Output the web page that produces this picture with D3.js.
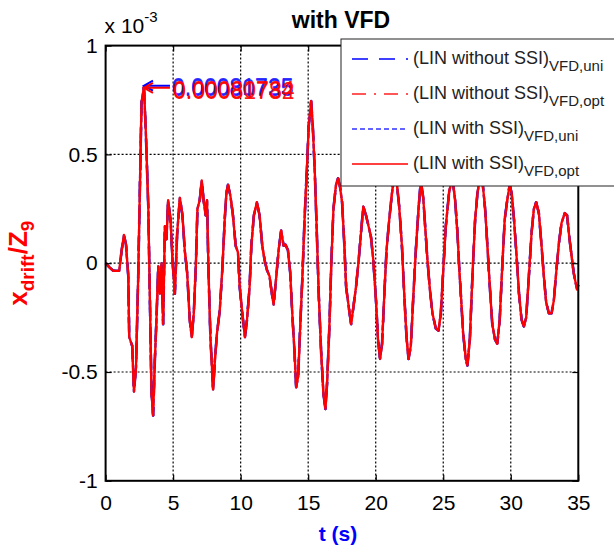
<!DOCTYPE html>
<html>
<head>
<meta charset="utf-8">
<script src="https://cdn.jsdelivr.net/npm/d3@7"></script>
<style>
  body { margin: 0; background: #fff; }
  svg { display: block; font-family: Arial, "Liberation Sans", sans-serif; }
</style>
</head>
<body>
<svg id="chart" width="614" height="550"></svg>
<script>
// time (s) and drift ratio (x 10^-3); the four curves coincide
const tSec = [0, 0.3, 0.57, 1.01, 1.19, 1.36, 1.51, 1.68, 1.75, 1.97, 2.1, 2.25, 2.42, 2.54, 2.66, 2.84, 2.98,
  3.16, 3.28, 3.4, 3.52, 3.65, 3.77, 3.9, 4.02, 4.14, 4.26, 4.39, 4.51, 4.63, 4.81, 4.95, 5.13, 5.3, 5.5,
  5.69, 5.86, 6.04, 6.23, 6.38, 6.53, 6.68, 6.8, 6.97, 7.12, 7.27, 7.41, 7.51, 7.61, 7.76, 7.96, 8.1, 8.25,
  8.45, 8.65, 8.82, 8.94, 9.06, 9.24, 9.43, 9.63, 9.8, 9.93, 10.12, 10.32, 10.47, 10.66, 10.79, 10.98, 11.2,
  11.4, 11.6, 11.77, 11.94, 12.14, 12.31, 12.44, 12.64, 12.81, 13.0, 13.18, 13.32, 13.5, 13.67, 13.82, 13.99,
  14.11, 14.26, 14.41, 14.56, 14.73, 14.9, 15.04, 15.22, 15.34, 15.49, 15.64, 15.78, 15.96, 16.13, 16.28,
  16.4, 16.57, 16.72, 16.87, 17.06, 17.21, 17.36, 17.51, 17.68, 17.81, 18.0, 18.18, 18.35, 18.54, 18.74,
  18.91, 19.08, 19.28, 19.47, 19.65, 19.82, 20.02, 20.17, 20.32, 20.47, 20.64, 20.8, 21.0, 21.2, 21.37,
  21.54, 21.74, 21.94, 22.11, 22.28, 22.43, 22.6, 22.77, 22.97, 23.17, 23.34, 23.52, 23.66, 23.83, 24.01,
  24.2, 24.45, 24.65, 24.82, 24.99, 25.19, 25.44, 25.68, 25.88, 26.05, 26.2, 26.32, 26.47, 26.67, 26.79,
  26.97, 27.16, 27.36, 27.53, 27.7, 27.9, 28.1, 28.27, 28.45, 28.63, 28.83, 29.0, 29.18, 29.37, 29.55,
  29.74, 29.92, 30.07, 30.24, 30.41, 30.61, 30.8, 30.97, 31.14, 31.34, 31.54, 31.71, 31.88, 32.08, 32.28,
  32.45, 32.62, 32.82, 33.02, 33.19, 33.36, 33.56, 33.76, 34.0, 34.17, 34.35, 34.54, 34.66, 34.9, 35];
const drift = [0, -0.02, -0.035, -0.035, 0.06, 0.13, 0.085, -0.06, -0.34, -0.38, -0.59, -0.48, -0.045, 0.35,
  0.74, 0.81, 0.6, 0.26, -0.17, -0.6, -0.7, -0.44, -0.25, -0.015, -0.14, 0.0, -0.28, 0.17, 0.11, 0.29, 0.2,
  0.015, -0.14, 0.14, 0.3, 0.22, 0.06, -0.045, -0.26, -0.34, -0.23, -0.015, 0.25, 0.29, 0.38, 0.28, 0.22,
  0.29, -0.015, -0.34, -0.58, -0.44, -0.32, -0.22, -0.02, 0.2, 0.32, 0.36, 0.31, 0.22, 0.08, 0.05, -0.11,
  -0.23, -0.34, -0.26, -0.11, 0.08, 0.22, 0.28, 0.22, 0.08, 0.015, -0.03, -0.06, -0.14, -0.19, -0.06, 0.06,
  0.15, 0.08, 0.085, 0.06, -0.045, -0.23, -0.41, -0.57, -0.52, -0.29, -0.08, 0.2, 0.43, 0.63, 0.745, 0.63,
  0.42, 0.14, -0.14, -0.41, -0.6, -0.67, -0.55, -0.29, 0.015, 0.25, 0.36, 0.39, 0.35, 0.28, 0.08, -0.11,
  -0.2, -0.28, -0.2, -0.11, 0.015, 0.14, 0.26, 0.22, 0.17, 0.12, 0.015, -0.17, -0.35, -0.44, -0.37, -0.14,
  0.06, 0.2, 0.32, 0.4, 0.38, 0.26, 0.08, -0.14, -0.34, -0.44, -0.38, -0.17, 0.06, 0.25, 0.38, 0.3, 0.17,
  0.015, -0.12, -0.23, -0.3, -0.31, -0.23, -0.045, 0.17, 0.33, 0.39, 0.29, 0.14, -0.04, -0.16, -0.32,
  -0.44, -0.47, -0.35, -0.06, 0.2, 0.32, 0.39, 0.38, 0.25, 0.08, -0.11, -0.28, -0.35, -0.37, -0.26,
  -0.015, 0.2, 0.29, 0.36, 0.32, 0.2, 0.05, -0.14, -0.26, -0.29, -0.25, -0.06, 0.14, 0.25, 0.28, 0.23,
  0.08, -0.06, -0.18, -0.23, -0.23, -0.17, -0.045, 0.09, 0.185, 0.23, 0.22, 0.11, 0.015, -0.045, -0.12, -0.1];

const xTicks = [0, 5, 10, 15, 20, 25, 30, 35];
const yTicks = [-1, -0.5, 0, 0.5, 1];
const legendNames = ["(LIN without SSI)", "(LIN without SSI)", "(LIN with SSI)", "(LIN with SSI)"];
const legendSubs = ["VFD,uni", "VFD,opt", "VFD,uni", "VFD,opt"];
const peakT = 2.84, peakV = 0.81;
const peakLabels = ["0.00081725", "0.00080735", "0.00080734", "0.00081782"];

// line styles for the four series, in legend order
const styles = [
  { color: "#0000ff", dash: "16,11", w: 2.6 },
  { color: "#ff2020", dash: "14,8,2,8", w: 2.2 },
  { color: "#3030ff", dash: "5,3", w: 2.4 },
  { color: "#ff0000", dash: null, w: 2.3 }
];

const svg = d3.select("#chart");
const m = { l: 105.6, r: 578.3, t: 45.6, b: 480.8 };
const x = d3.scaleLinear().domain([0, 35]).range([m.l, m.r]);
const y = d3.scaleLinear().domain([-1, 1]).range([m.b, m.t]);
const pts = tSec.map((t, i) => [t, drift[i]]);

// dotted grid
svg.append("g").selectAll("line").data(xTicks.slice(1, -1)).join("line")
  .attr("x1", d => x(d)).attr("x2", d => x(d)).attr("y1", m.t).attr("y2", m.b)
  .attr("stroke", "#000").attr("stroke-dasharray", "2,2").attr("stroke-width", 1.2);
svg.append("g").selectAll("line").data(yTicks.slice(1, -1)).join("line")
  .attr("y1", d => y(d)).attr("y2", d => y(d)).attr("x1", m.l).attr("x2", m.r)
  .attr("stroke", "#000").attr("stroke-dasharray", "2,2").attr("stroke-width", 1.2);

// curves
const line = d3.line().x(d => x(d[0])).y(d => y(d[1]));
styles.forEach(s => {
  svg.append("path").datum(pts)
    .attr("d", line).attr("fill", "none")
    .attr("stroke", s.color).attr("stroke-width", s.w)
    .attr("stroke-linejoin", "round")
    .attr("stroke-dasharray", s.dash);
});

// axes with inward ticks on all four sides
const fmt = d => String(d);
function styleAxis(g) {
  g.select(".domain").remove();
  g.selectAll(".tick line").attr("stroke", "#000").attr("stroke-width", 1.2);
  g.selectAll("text").attr("font-size", 21).attr("fill", "#000");
}
svg.append("g").attr("transform", `translate(0,${m.b})`)
  .call(d3.axisBottom(x).tickValues(xTicks).tickFormat(fmt).tickSizeInner(-6).tickSizeOuter(0).tickPadding(14))
  .call(styleAxis);
svg.append("g").attr("transform", `translate(0,${m.t})`)
  .call(d3.axisTop(x).tickValues(xTicks).tickFormat("").tickSizeInner(-6).tickSizeOuter(0))
  .call(styleAxis);
svg.append("g").attr("transform", `translate(${m.l},0)`)
  .call(d3.axisLeft(y).tickValues(yTicks).tickFormat(fmt).tickSizeInner(-6).tickSizeOuter(0).tickPadding(8))
  .call(styleAxis);
svg.append("g").attr("transform", `translate(${m.r},0)`)
  .call(d3.axisRight(y).tickValues(yTicks).tickFormat("").tickSizeInner(-6).tickSizeOuter(0))
  .call(styleAxis);
svg.append("rect").attr("x", m.l).attr("y", m.t).attr("width", m.r - m.l).attr("height", m.b - m.t)
  .attr("fill", "none").attr("stroke", "#000").attr("stroke-width", 2);

// exponent
const ex = svg.append("text").attr("x", m.l - 1).attr("y", 33).attr("font-size", 21);
ex.append("tspan").text("x 10");
ex.append("tspan").attr("font-size", 15).attr("dy", -11).text("-3");

// title
svg.append("text").attr("x", 341).attr("y", 28).attr("text-anchor", "middle")
  .attr("font-size", 23).attr("font-weight", "bold").text("with VFD");

// peak data tips
const tipX = x(peakT);
[["#0000ff", 0.006], ["#ff0000", -0.004]].forEach(([c, off]) => {
  const ty = y(peakV + off);
  svg.append("path")
    .attr("d", `M${tipX + 26},${ty}H${tipX}M${tipX + 9},${ty - 5}L${tipX},${ty}L${tipX + 9},${ty + 5}`)
    .attr("fill", "none").attr("stroke", c).attr("stroke-width", 2);
});
peakLabels.forEach((lab, i) => {
  const blue = i < 2;
  svg.append("text").attr("x", tipX + 28 + (blue ? 0 : 1)).attr("y", y(peakV) + (blue ? 8 + i : 11 + (i - 2)))
    .attr("font-size", 23).attr("fill", blue ? "#2020ff" : "#ff0000")
    .attr("opacity", 0.9).text(lab);
});

// legend
const lg = svg.append("g");
lg.append("rect").attr("x", 341).attr("y", 39).attr("width", 290).attr("height", 147)
  .attr("fill", "#fff").attr("stroke", "#222").attr("stroke-width", 1);
styles.forEach((s, i) => {
  const ly = 59 + i * 35;
  lg.append("line").attr("x1", 352).attr("x2", 408).attr("y1", ly).attr("y2", ly)
    .attr("stroke", s.color).attr("stroke-width", 1.5).attr("stroke-dasharray", s.dash);
  const tx = lg.append("text").attr("x", 413).attr("y", ly + 5).attr("font-size", 18).attr("fill", "#222");
  tx.append("tspan").text(legendNames[i]);
  tx.append("tspan").attr("font-size", 15).attr("dy", 6.5).text(legendSubs[i]);
});

// axis labels
svg.append("text").attr("x", (m.l + m.r) / 2 - 4).attr("y", 541).attr("text-anchor", "middle")
  .attr("font-size", 21).attr("font-weight", "bold").attr("fill", "#0000ff").text("t (s)");
const yl = svg.append("text").attr("transform", `translate(27,${(m.t + m.b) / 2}) rotate(-90)`)
  .attr("text-anchor", "middle").attr("font-weight", "bold").attr("fill", "#ff0000").attr("font-size", 26);
yl.append("tspan").text("x");
yl.append("tspan").attr("font-size", 19).attr("dy", 7).text("drift");
yl.append("tspan").attr("dy", -7).text("/Z");
yl.append("tspan").attr("font-size", 19).attr("dy", 7).text("9");
</script>
</body>
</html>
